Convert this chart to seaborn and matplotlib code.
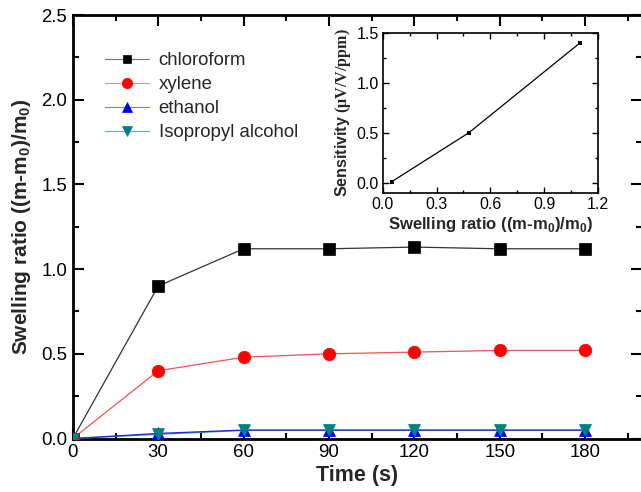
import matplotlib
matplotlib.use("Agg")
import matplotlib.pyplot as plt
import seaborn as sns
import pandas as pd
import numpy as np
from matplotlib.lines import Line2D
from matplotlib.ticker import MultipleLocator

sns.set_theme(style="ticks")
plt.rcParams['font.family'] = ['Liberation Sans', 'DejaVu Sans']
plt.rcParams['mathtext.fontset'] = 'custom'
plt.rcParams['mathtext.sf'] = 'Liberation Sans:bold'
plt.rcParams['mathtext.bf'] = 'Liberation Serif:bold'
plt.rcParams['mathtext.rm'] = 'Liberation Sans'

# ---- data ----
time_s = [0, 30, 60, 90, 120, 150, 180]
chloroform = [0.0, 0.90, 1.12, 1.12, 1.13, 1.12, 1.12]
xylene = [0.0, 0.40, 0.48, 0.50, 0.51, 0.52, 0.52]
ethanol = [0.0, 0.030, 0.050, 0.050, 0.050, 0.050, 0.050]
isopropyl = [0.0, 0.025, 0.048, 0.048, 0.048, 0.048, 0.048]

inset_swelling = [0.05, 0.48, 1.10]
inset_sensitivity = [0.01, 0.50, 1.40]

fig = plt.figure(figsize=(6.41, 4.92), dpi=100)
ax = fig.add_axes([0.1136, 0.1087, 0.888, 0.8608])

series = [
    ("chloroform", chloroform, "#333333", "black", "s", 8, "#777777", 6),
    ("xylene", xylene, "#ee5555", "red", "o", 9, "#f08888", 7.5),
    ("ethanol", ethanol, "#2222dd", "blue", "^", 9, "#7777ee", 7.5),
    ("Isopropyl alcohol", isopropyl, "#339999", "#008080", "v", 9, "#66aaaa", 7.5),
]
handles = []
for i, (name, vals, lc, mc, mk, ms, legc, lms) in enumerate(series):
    df = pd.DataFrame({"t": time_s, "v": vals})
    lz = {0: 3, 1: 3, 2: 3.2, 3: 3.1}[i]
    sns.lineplot(data=df, x="t", y="v", ax=ax, color=lc, linewidth=0.9,
                 zorder=lz, legend=False)
    sns.lineplot(data=df, x="t", y="v", ax=ax, color=mc, linestyle="none",
                 marker=mk, markersize=ms, markeredgewidth=0.5,
                 markeredgecolor=mc, zorder=4 + i, legend=False)
    handles.append(Line2D([], [], color=legc, linewidth=0.8, marker=mk,
                          markersize=lms, markerfacecolor=mc,
                          markeredgecolor=mc, markeredgewidth=0.5, label=name))

ax.set_xlim(0, 200)
ax.set_ylim(0, 2.5)
ax.xaxis.set_major_locator(MultipleLocator(30))
ax.xaxis.set_minor_locator(MultipleLocator(15))
ax.yaxis.set_major_locator(MultipleLocator(0.5))
ax.yaxis.set_minor_locator(MultipleLocator(0.25))
ax.set_xticks([0, 30, 60, 90, 120, 150, 180])
ax.yaxis.set_major_formatter(matplotlib.ticker.FormatStrFormatter('%.1f'))
ax.tick_params(which='both', direction='in', top=True, right=True,
               labelsize=13.4, width=1.5, colors='black')
ax.tick_params(which='major', length=8, pad=4)
ax.tick_params(which='minor', length=4)
for s in ax.spines.values():
    s.set_linewidth(2)
    s.set_color('black')
ax.set_xlabel("Time (s)", fontsize=15.5, fontweight='bold', labelpad=3)
ax.set_ylabel(r"Swelling ratio ((m-m$_\mathsf{0}$)/m$_\mathsf{0}$)",
              fontsize=15, fontweight='bold', labelpad=6)
ax.legend(handles=handles, loc='upper left', bbox_to_anchor=(0.043, 0.93),
          frameon=False, fontsize=13.4, handlelength=2.4, handletextpad=0.5,
          labelspacing=0.38, borderaxespad=0)

# ---- inset ----
ins = fig.add_axes([0.597, 0.6083, 0.336, 0.325])
dfi = pd.DataFrame({"x": inset_swelling, "y": inset_sensitivity})
sns.lineplot(data=dfi, x="x", y="y", ax=ins, color="black", linewidth=0.9,
             marker="s", markersize=3.5, markeredgewidth=0, legend=False)
ins.set_xlim(0, 1.2)
ins.set_ylim(-0.1, 1.5)
ins.xaxis.set_major_locator(MultipleLocator(0.3))
ins.xaxis.set_minor_locator(MultipleLocator(0.15))
ins.yaxis.set_major_locator(MultipleLocator(0.5))
ins.yaxis.set_minor_locator(MultipleLocator(0.25))
ins.xaxis.set_major_formatter(matplotlib.ticker.FormatStrFormatter('%.1f'))
ins.yaxis.set_major_formatter(matplotlib.ticker.FormatStrFormatter('%.1f'))
ins.tick_params(which='both', direction='in', top=True, right=True,
                labelsize=11.5, width=1, colors='black')
ins.tick_params(which='major', length=4, pad=3)
ins.tick_params(which='minor', length=2)
for s in ins.spines.values():
    s.set_linewidth(1.2)
    s.set_color('black')
ins.set_xlabel(r"Swelling ratio ((m-m$_\mathsf{0}$)/m$_\mathsf{0}$)",
               fontsize=12, fontweight='bold', labelpad=2)
ins.set_ylabel(r"$\mathsf{Sensitivity}$ $\mathbf{(μV/V/ppm)}$", fontsize=11.5,
               fontweight='bold', labelpad=2)

fig.savefig("out.png", dpi=100)
